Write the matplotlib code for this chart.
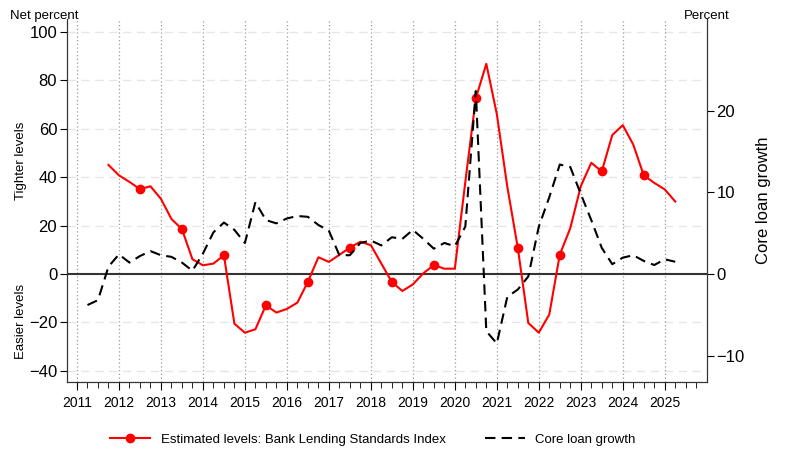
import matplotlib
matplotlib.use("Agg")
import matplotlib.pyplot as plt
import numpy as np

plt.rcParams['font.family'] = ['Liberation Sans', 'DejaVu Sans']

# Bank lending standards index, quarterly from 2011Q4
bls_start = 2011.75
bls_values = [45, 40.7, 38, 35, 36.2, 31, 22.7, 18.5, 6.1, 3.6, 4.3, 7.7,
              -20.5, -24.2, -22.8, -12.9, -15.9, -14.4, -11.8, -3.2,
              6.9, 5.0, 7.9, 10.9, 13.3, 11.9, 4.3, -3.3, -7.0, -4.3, 0.3, 3.7,
              2.2, 2.2, 38, 72.5, 86.7, 66, 36, 10.8, -20.2, -24.2, -16.7, 8.0,
              18.9, 36.2, 45.9, 42.3, 57.3, 61.4, 53.4, 40.7, 37.6, 34.9, 29.9]

# Core loan growth, quarterly from 2011Q2
loan_start = 2011.25
loan_values = [-3.8, -3.2, 0.9, 2.4, 1.4, 2.2, 2.8, 2.3, 2.1, 1.4, 0.4, 2.5,
               5.1, 6.3, 5.4, 3.8, 8.8, 6.6, 6.2, 6.8, 7.1, 7.0, 6.0, 5.3,
               2.3, 2.3, 3.8, 4.1, 3.5, 4.5, 4.3, 5.4, 4.3, 3.1, 3.8, 3.4,
               5.8, 22.4, -7.0, -8.5, -2.8, -1.9, -0.3, 5.8, 9.4, 13.4, 13.1, 9.8,
               6.6, 3.2, 1.2, 2.0, 2.3, 1.6, 1.1, 1.8, 1.5]

years = list(range(2011, 2026))
left_ticks = [-40, -20, 0, 20, 40, 60, 80, 100]
right_ticks = [-10, 0, 10, 20]

bls_x = bls_start + 0.25 * np.arange(len(bls_values))
loan_x = loan_start + 0.25 * np.arange(len(loan_values))

fig = plt.figure(figsize=(7.87, 4.53), dpi=100)
ax = fig.add_axes([0.085, 0.157, 0.813, 0.80])
ax2 = ax.twinx()

left_lim = (-44.5, 105)
scale = 3.37
ax.set_ylim(left_lim)
ax2.set_ylim(left_lim[0] / scale, left_lim[1] / scale)
ax.set_xlim(2010.76, 2026.0)

# grid
for t in left_ticks:
    if t != 0:
        ax.axhline(t, color='#e6e6e6', lw=1.0, ls=(0, (6, 4)), zorder=0)
for y in years:
    ax.axvline(y, color='#9a9a9a', lw=0.9, ls=(0, (1, 2)), zorder=0)
ax.axhline(0, color='#333333', lw=1.5, zorder=1)

ax.plot(bls_x, bls_values, color='#ff0000', lw=1.5, marker='o', ms=6,
        markevery=(3, 4), zorder=3)
ax2.plot(loan_x, loan_values, color='black', lw=1.5, ls=(0, (5, 3)), zorder=2)

ax.set_xticks(years)
ax.set_xticks(np.arange(2011, 2025.8, 0.25), minor=True)
ax.tick_params(axis='x', which='major', length=6, labelsize=10, pad=4)
ax.tick_params(axis='x', which='minor', length=4)
ax.set_yticks(left_ticks)
ax.tick_params(axis='y', length=5, labelsize=12, pad=2)
ax2.set_yticks(right_ticks)
ax2.tick_params(axis='y', length=5, labelsize=12, pad=2)

for a in (ax, ax2):
    a.spines['top'].set_visible(False)
    a.spines['left'].set_color('#333333')
    a.spines['bottom'].set_color('#333333')
    a.spines['right'].set_color('#333333')

ax2.set_ylabel('Core loan growth', fontsize=12, labelpad=8)

fig.text(0.013, 0.965, 'Net percent', fontsize=9.5, ha='left', va='center')
fig.text(0.898, 0.965, 'Percent', fontsize=9.5, ha='center', va='center')
fig.text(0.027, 0.645, 'Tighter levels', fontsize=9.5, rotation=90,
         ha='center', va='center')
fig.text(0.027, 0.29, 'Easier levels', fontsize=9.5, rotation=90,
         ha='center', va='center')

# legend
h1, = ax.plot([], [], color='#ff0000', lw=1.5, marker='o', ms=6)
h2, = ax.plot([], [], color='black', lw=1.5, ls=(0, (5, 3)))
fig.legend([h1, h2],
           ['Estimated levels: Bank Lending Standards Index', 'Core loan growth'],
           loc='lower center', bbox_to_anchor=(0.474, -0.01), ncol=2, frameon=False,
           fontsize=9.5, columnspacing=3.0, handlelength=3.0)

fig.savefig('out.png', dpi=100)
